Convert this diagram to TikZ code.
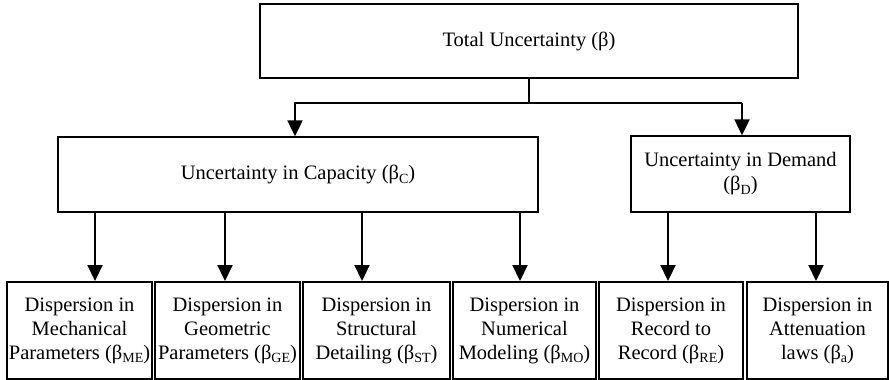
\documentclass[tikz,border=0pt]{standalone}
\usepackage{fontspec}
\setmainfont{Liberation Serif}
\usetikzlibrary{arrows.meta}
% lowered subscript in text font
\newcommand{\bsub}[1]{\raisebox{-0.4ex}{\fontsize{14}{14}\selectfont #1}}

\begin{document}
\begin{tikzpicture}[x=1pt,y=-1pt,
  box/.style={draw, line width=1.4pt, inner sep=0pt, align=center,
              font=\fontsize{20.5}{24}\selectfont},
  leaf/.style={box, line width=2pt, minimum height=97},
  link/.style={line width=2.2pt, line join=miter},
  arr/.style={link, -{Triangle[length=16pt,width=15pt]}}]
\useasboundingbox (0,0) rectangle (889,380);

% upper levels
\node[box, minimum width=538, minimum height=74] (total) at (529,41) {Total Uncertainty (β)};
\node[box, minimum width=480, minimum height=75] (cap) at (298,174.5) {Uncertainty in Capacity (β\bsub{C})};
\node[box, minimum width=219, minimum height=76] (dem) at (740.5,174) {Uncertainty in Demand\\(β\bsub{D})};

% leaves
\node[leaf, minimum width=145] (me) at (79.5,330.5) {Dispersion in\\Mechanical\\Parameters (β\bsub{ME})};
\node[leaf, minimum width=145] (ge) at (227.5,330.5) {Dispersion in\\Geometric\\Parameters (β\bsub{GE})};
\node[leaf, minimum width=147] (st) at (376.5,330.5) {Dispersion in\\Structural\\Detailing (β\bsub{ST})};
\node[leaf, minimum width=143] (mo) at (524.5,330.5) {Dispersion in\\Numerical\\Modeling (β\bsub{MO})};
\node[leaf, minimum width=144] (re) at (671,330.5) {Dispersion in\\Record to\\Record (β\bsub{RE})};
\node[leaf, minimum width=141] (at) at (817.5,330.5) {Dispersion in\\Attenuation\\laws (β\bsub{a})};

% junction points and arrow columns
\coordinate (jl) at (295,103);
\coordinate (jr) at (742,103);
\coordinate (x1) at (95,0);
\coordinate (x2) at (225,0);
\coordinate (x3) at (362,0);
\coordinate (x4) at (520,0);
\coordinate (x5) at (668,0);
\coordinate (x6) at (816,0);

% top split
\draw[link] (total.south) -- (total.south |- jl);
\draw[arr] (jr) -- (jl) -- (jl |- cap.north);
\draw[arr] (jr) -- (jr |- dem.north);

% capacity branches
\draw[arr] (cap.south -| x1) -- (me.north -| x1);
\draw[arr] (cap.south -| x2) -- (ge.north -| x2);
\draw[arr] (cap.south -| x3) -- (st.north -| x3);
\draw[arr] (cap.south -| x4) -- (mo.north -| x4);

% demand branches
\draw[arr] (dem.south -| x5) -- (re.north -| x5);
\draw[arr] (dem.south -| x6) -- (at.north -| x6);
\end{tikzpicture}
\end{document}
